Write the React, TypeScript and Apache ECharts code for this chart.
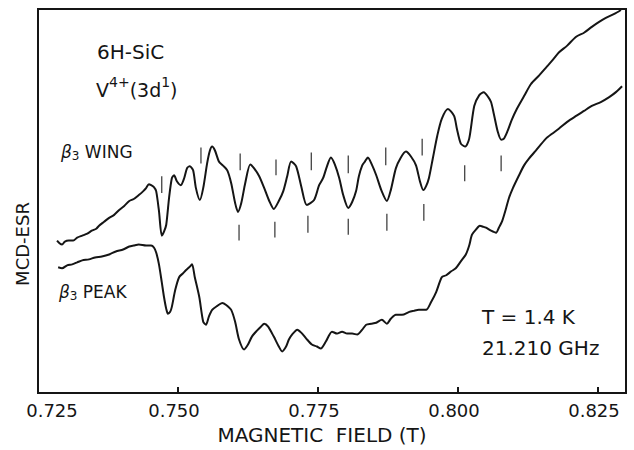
import React, { useEffect, useRef } from "react";
import * as echarts from "echarts";

// β3 WING trace (magnetic field in T, MCD-ESR signal in arbitrary units)
const wingField = [
  0.7284, 0.7289, 0.7293, 0.7298, 0.7305, 0.7313, 0.732, 0.7329, 0.7338, 0.7346,
  0.7354, 0.7359, 0.7368, 0.7377, 0.7386, 0.7395, 0.7404, 0.7413, 0.7421, 0.743,
  0.7438, 0.7443, 0.7448, 0.7452, 0.7457, 0.7461, 0.7466, 0.7471, 0.7475, 0.7479,
  0.7484, 0.7489, 0.7493, 0.7498, 0.7505, 0.7511, 0.7516, 0.7521, 0.7527, 0.7532,
  0.7539, 0.7545, 0.7552, 0.7557, 0.7561, 0.7566, 0.7573, 0.758, 0.7588, 0.7595,
  0.7602, 0.7607, 0.7613, 0.762, 0.7629, 0.7636, 0.7645, 0.7654, 0.7663, 0.7671,
  0.768, 0.7688, 0.7695, 0.7702, 0.7711, 0.772, 0.773, 0.7743, 0.7752, 0.7759,
  0.7766, 0.7773, 0.778, 0.7788, 0.7795, 0.7804, 0.7811, 0.7818, 0.7823, 0.7829,
  0.7834, 0.7839, 0.7846, 0.7854, 0.7863, 0.7873, 0.788, 0.7889, 0.7898, 0.7907,
  0.7916, 0.7925, 0.7932, 0.7938, 0.7943, 0.7948, 0.7955, 0.7963, 0.7971, 0.7982,
  0.7993, 0.7998, 0.8005, 0.8013, 0.802, 0.8029, 0.8038, 0.8046, 0.8054, 0.8059,
  0.8064, 0.8071, 0.8077, 0.8082, 0.8088, 0.8096, 0.8105, 0.8118, 0.813, 0.8145,
  0.8159, 0.817, 0.818, 0.8195, 0.8211, 0.8225, 0.8239, 0.8252, 0.8264, 0.8279,
  0.8291,
];
const wingSignal = [
  154, 151, 150, 153, 154, 154, 157, 159, 161, 164,
  166, 169, 173, 177, 180, 185, 189, 194, 196, 200,
  204, 207, 211, 210, 208, 204, 184, 159, 163, 170,
  197, 217, 220, 214, 210, 217, 227, 229, 225, 207,
  195, 207, 232, 245, 249, 245, 234, 230, 225, 212,
  192, 183, 192, 212, 231, 227, 219, 207, 194, 186,
  194, 204, 219, 234, 229, 209, 190, 195, 210, 217,
  229, 238, 231, 217, 200, 187, 193, 204, 219, 230,
  234, 238, 231, 220, 205, 194, 205, 227, 238, 244,
  239, 230, 214, 205, 209, 217, 237, 260, 277, 287,
  280, 267, 252, 249, 257, 290, 301, 304, 299, 294,
  282, 264, 256, 257, 264, 276, 287, 300, 312, 321,
  330, 337, 344, 351, 360, 364, 370, 375, 379, 383,
  387,
];

// β3 PEAK trace
const peakField = [
  0.7286, 0.7293, 0.7302, 0.7311, 0.732, 0.7329, 0.7341, 0.7352, 0.7364, 0.7377,
  0.7389, 0.7402, 0.7413, 0.7421, 0.743, 0.7443, 0.7452, 0.7457, 0.7461, 0.7466,
  0.7471, 0.7475, 0.7479, 0.7482, 0.7486, 0.7489, 0.7495, 0.7502, 0.7509, 0.7514,
  0.752, 0.7525, 0.753, 0.7538, 0.7545, 0.755, 0.7555, 0.7561, 0.757, 0.7579,
  0.7586, 0.7595, 0.7602, 0.7609, 0.7618, 0.7625, 0.7632, 0.7641, 0.7648, 0.7654,
  0.7661, 0.7671, 0.768, 0.7686, 0.7693, 0.7698, 0.7705, 0.7713, 0.772, 0.7729,
  0.7739, 0.7748, 0.7755, 0.7764, 0.7775, 0.7784, 0.7793, 0.7802, 0.7811, 0.782,
  0.7829, 0.7836, 0.7845, 0.7854, 0.7864, 0.7873, 0.788, 0.7889, 0.79, 0.7913,
  0.7921, 0.793, 0.7943, 0.7952, 0.7961, 0.7971, 0.7979, 0.7988, 0.7996, 0.8005,
  0.8014, 0.802, 0.8025, 0.8032, 0.8039, 0.8045, 0.805, 0.8059, 0.8068, 0.8073,
  0.8079, 0.8086, 0.8091, 0.8098, 0.8109, 0.8118, 0.8127, 0.8139, 0.8157, 0.8168,
  0.818, 0.8195, 0.8211, 0.8225, 0.8239, 0.8255, 0.827, 0.8282, 0.8293,
];
const peakSignal = [
  127, 126, 129, 130, 132, 134, 135, 137, 138, 140,
  143, 145, 148, 149, 150, 149, 149, 147, 142, 130,
  112, 97, 85, 80, 82, 87, 104, 117, 121, 124,
  127, 130, 117, 97, 72, 69, 77, 84, 88, 91,
  89, 84, 72, 54, 44, 49, 57, 63, 67, 70,
  67, 57, 47, 42, 47, 54, 60, 64, 61, 55,
  49, 47, 45, 52, 62, 60, 62, 60, 60, 59,
  64, 69, 70, 71, 74, 70, 75, 79, 79, 82,
  83, 84, 84, 92, 102, 117, 119, 123, 126, 133,
  140, 149, 160, 165, 169, 168, 167, 164, 162, 167,
  174, 187, 197, 207, 220, 230, 237, 245, 257, 262,
  267, 274, 280, 285, 290, 294, 299, 304, 310,
];

// line-position markers (field, lower and upper end of each marker)
const markerField = [
  0.7471, 0.7541, 0.7611, 0.7675, 0.7738, 0.7804, 0.7871, 0.7936,
  0.7609, 0.7673, 0.7732, 0.7804, 0.7873, 0.7939, 0.8012, 0.8077,
];
const markerLow = [
  202, 232, 225, 220, 225, 222, 230, 240,
  154, 157, 162, 160, 164, 174, 214, 224,
];
const markerHigh = [
  219, 248, 242, 236, 243, 240, 248, 257,
  170, 173, 179, 176, 181, 191, 230, 240,
];

const xMin = 0.725;
const xMax = 0.83;
const xStep = 0.025;

const FONT = "'DejaVu Sans', 'Liberation Sans', sans-serif";
const INK = "#151515";

export default function App() {
  const ref = useRef<HTMLDivElement>(null);

  useEffect(() => {
    if (!ref.current) return;
    const chart = echarts.init(ref.current, undefined, { renderer: "svg" });

    const option: any = {
      animation: false,
      backgroundColor: "#ffffff",
      grid: {
        left: 38,
        right: 8,
        top: 9,
        bottom: 53,
        show: true,
        borderColor: INK,
        borderWidth: 2,
        backgroundColor: "transparent",
      },
      xAxis: {
        type: "value",
        min: xMin,
        max: xMax,
        interval: xStep,
        name: "MAGNETIC  FIELD (T)",
        nameLocation: "middle",
        nameGap: 32,
        nameTextStyle: { fontFamily: FONT, fontSize: 20, color: INK, padding: [0, 20, 0, 0] },
        axisLine: { show: false },
        axisTick: { show: true, inside: true, length: 6, lineStyle: { color: INK, width: 2 } },
        splitLine: { show: false },
        axisLabel: {
          showMaxLabel: false,
          margin: 8,
          fontFamily: FONT,
          fontSize: 18,
          color: INK,
          formatter: (v: number) => {
            const s = v.toFixed(3);
            return Math.abs(v - xMin) < 1e-9 ? `{first|${s}}` : `{n|${s}}`;
          },
          rich: {
            first: { fontFamily: FONT, fontSize: 18, color: INK, padding: [0, 0, 0, 28] },
            n: { fontFamily: FONT, fontSize: 18, color: INK, padding: [0, 8, 0, 0] },
          },
        },
      },
      yAxis: {
        type: "value",
        min: 0,
        max: 388,
        axisLine: { show: false },
        axisTick: { show: false },
        axisLabel: { show: false },
        splitLine: { show: false },
      },
      graphic: [
        {
          type: "text",
          x: 22,
          y: 244,
          rotation: Math.PI / 2,
          style: {
            text: "MCD-ESR",
            fontFamily: FONT,
            fontSize: 18,
            fill: INK,
            textAlign: "center",
            textVerticalAlign: "middle",
          },
        },
        {
          type: "text",
          x: 97,
          y: 52,
          style: {
            text: "6H-SiC",
            fontFamily: FONT,
            fontSize: 20,
            fill: INK,
            textAlign: "left",
            textVerticalAlign: "middle",
          },
        },
        {
          type: "text",
          x: 96,
          y: 90,
          style: {
            text: "{m|V}{s|4+}{m|(3d}{s|1}{m|)}",
            fill: INK,
            textAlign: "left",
            textVerticalAlign: "middle",
            rich: {
              m: { fontFamily: FONT, fontSize: 19, lineHeight: 30, fill: INK },
              s: { fontFamily: FONT, fontSize: 14, lineHeight: 13, verticalAlign: "top", fill: INK },
            },
          },
        },
        {
          type: "text",
          x: 61,
          y: 152,
          style: {
            text: "{b|β}{d|3}{m| WING}",
            fill: INK,
            textAlign: "left",
            textVerticalAlign: "middle",
            rich: {
              b: { fontFamily: FONT, fontSize: 17, fontStyle: "italic", lineHeight: 20, fill: INK },
              d: { fontFamily: FONT, fontSize: 12, lineHeight: 12, verticalAlign: "bottom", fill: INK },
              m: { fontFamily: FONT, fontSize: 17, lineHeight: 20, fill: INK },
            },
          },
        },
        {
          type: "text",
          x: 59,
          y: 292,
          style: {
            text: "{b|β}{d|3}{m| PEAK}",
            fill: INK,
            textAlign: "left",
            textVerticalAlign: "middle",
            rich: {
              b: { fontFamily: FONT, fontSize: 17, fontStyle: "italic", lineHeight: 20, fill: INK },
              d: { fontFamily: FONT, fontSize: 12, lineHeight: 12, verticalAlign: "bottom", fill: INK },
              m: { fontFamily: FONT, fontSize: 17, lineHeight: 20, fill: INK },
            },
          },
        },
        {
          type: "text",
          x: 482,
          y: 317,
          style: {
            text: "T = 1.4 K",
            fontFamily: FONT,
            fontSize: 20,
            fill: INK,
            textAlign: "left",
            textVerticalAlign: "middle",
          },
        },
        {
          type: "text",
          x: 482,
          y: 348,
          style: {
            text: "21.210 GHz",
            fontFamily: FONT,
            fontSize: 20,
            fill: INK,
            textAlign: "left",
            textVerticalAlign: "middle",
          },
        },
      ],
      series: [
        {
          name: "β3 WING",
          type: "line",
          data: wingField.map((f, i) => [f, wingSignal[i]]),
          showSymbol: false,
          symbol: "none",
          smooth: 0.25,
          lineStyle: { color: INK, width: 2 },
          z: 3,
        },
        {
          name: "β3 PEAK",
          type: "line",
          data: peakField.map((f, i) => [f, peakSignal[i]]),
          showSymbol: false,
          symbol: "none",
          smooth: 0.25,
          lineStyle: { color: INK, width: 2 },
          z: 3,
        },
        {
          name: "markers",
          type: "custom",
          data: markerField.map((f, i) => [f, markerLow[i], markerHigh[i]]),
          encode: { x: 0, y: [1, 2] },
          renderItem: (params: any, api: any) => {
            const p1 = api.coord([api.value(0), api.value(1)]);
            const p2 = api.coord([api.value(0), api.value(2)]);
            return {
              type: "line",
              shape: { x1: p1[0], y1: p1[1], x2: p2[0], y2: p2[1] },
              style: { stroke: "#333", lineWidth: 1.2 },
            };
          },
          z: 2,
        },
      ],
    };

    chart.setOption(option);
    return () => chart.dispose();
  }, []);

  return (
    <div
      ref={ref}
      style={{ position: "fixed", left: 0, top: 0, width: 634, height: 450, background: "#fff" }}
    />
  );
}
